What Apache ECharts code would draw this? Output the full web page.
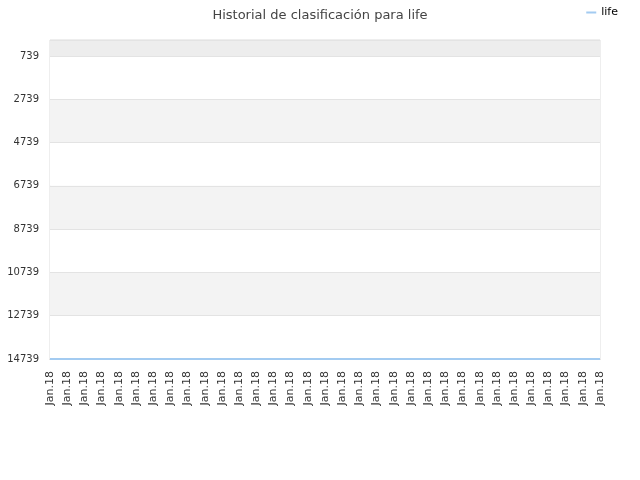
<!DOCTYPE html>
<html>
<head>
<meta charset="utf-8">
<script src="https://cdn.jsdelivr.net/npm/echarts@6/dist/echarts.min.js"></script>
<style>html,body{margin:0;padding:0;background:#fff}#c{width:640px;height:480px}</style>
</head>
<body>
<div id="c"></div>
<script>
const titleText = 'Historial de clasificación para life';
const seriesName = 'life';
const categories = ['Jan.18','Jan.18','Jan.18','Jan.18','Jan.18','Jan.18','Jan.18','Jan.18','Jan.18','Jan.18','Jan.18','Jan.18','Jan.18','Jan.18','Jan.18','Jan.18','Jan.18','Jan.18','Jan.18','Jan.18','Jan.18','Jan.18','Jan.18','Jan.18','Jan.18','Jan.18','Jan.18','Jan.18','Jan.18','Jan.18','Jan.18','Jan.18','Jan.18'];
const values = [14739,14739,14739,14739,14739,14739,14739,14739,14739,14739,14739,14739,14739,14739,14739,14739,14739,14739,14739,14739,14739,14739,14739,14739,14739,14739,14739,14739,14739,14739,14739,14739,14739];
const yTickValues = [739,2739,4739,6739,8739,10739,12739,14739];
const yMin = 0;
const yMax = 14739;

const chart = echarts.init(document.getElementById('c'));
chart.setOption({
  animation: false,
  backgroundColor: '#fff',
  title: {
    text: titleText,
    left: 'center',
    top: 4,
    textStyle: { fontFamily: 'DejaVu Sans', fontSize: 13, fontWeight: 'normal', color: '#444' }
  },
  legend: {
    data: [seriesName],
    right: 17,
    top: 2,
    itemWidth: 10,
    itemHeight: 2,
    icon: 'rect',
    itemGap: 8,
    textStyle: { fontFamily: 'DejaVu Sans', fontSize: 11, color: '#000' }
  },
  grid: {
    left: 50, right: 40, top: 40, bottom: 121,
    show: true, borderColor: '#dddddd', borderWidth: 1, backgroundColor: 'transparent'
  },
  xAxis: {
    type: 'category',
    data: categories,
    boundaryGap: false,
    axisLine: { show: true, onZero: false, lineStyle: { color: '#bbbbbb' } },
    axisTick: { show: false },
    splitLine: { show: false },
    axisLabel: {
      interval: 0, rotate: 90, fontFamily: 'DejaVu Sans', fontSize: 11, color: '#333', margin: 12
    }
  },
  yAxis: {
    type: 'value',
    inverse: true,
    min: yMin,
    max: yMax,
    axisLine: { show: false },
    axisTick: { show: false, customValues: [yMin].concat(yTickValues) },
    axisLabel: {
      customValues: yTickValues,
      formatter: function (v) { return String(v); },
      fontFamily: 'DejaVu Sans', fontSize: 10, color: '#333', margin: 11
    },
    splitLine: { show: true, lineStyle: { color: '#e3e3e3', width: 1 } },
    splitArea: { show: true, areaStyle: { color: ['#ededed','#ffffff','#f3f3f3','#ffffff','#f3f3f3','#ffffff','#f3f3f3','#ffffff'] } }
  },
  series: [{
    name: seriesName,
    type: 'line',
    data: values,
    showSymbol: false,
    symbol: 'none',
    lineStyle: { color: '#a3cbf1', width: 2 },
    itemStyle: { color: '#a3cbf1' }
  }]
});
</script>
</body>
</html>
